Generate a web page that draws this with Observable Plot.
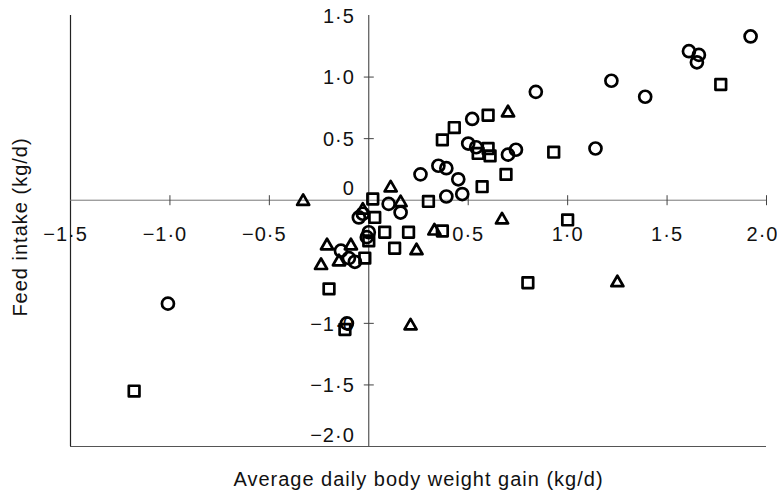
<!DOCTYPE html>
<html>
<head>
<meta charset="utf-8">
<script src="https://cdn.jsdelivr.net/npm/d3@7"></script>
<script src="https://cdn.jsdelivr.net/npm/@observablehq/plot@0.6"></script>
<style>
  html, body { margin: 0; padding: 0; background: #fff; }
  #chart svg { display: block; }
</style>
</head>
<body>
<div id="chart"></div>
<script>
// Series: circles
const circleGain   = [1.92, 1.61, 1.66, 1.65, 1.22, 1.39, 0.84, 1.14, 0.52, 0.50, 0.54, 0.70, 0.74, 0.26, 0.35, 0.39, 0.45, 0.39, 0.47, 0.10, 0.16, -1.01, -0.05, -0.03, 0.00, -0.01, -0.14, -0.10, -0.07, -0.11];
const circleIntake = [1.33, 1.21, 1.18, 1.12, 0.97, 0.84, 0.88, 0.42, 0.66, 0.46, 0.43, 0.37, 0.41, 0.21, 0.28, 0.26, 0.17, 0.03, 0.05, -0.03, -0.10, -0.84, -0.14, -0.11, -0.26, -0.30, -0.41, -0.47, -0.50, -1.00];
// Series: squares
const squareGain   = [1.77, 0.60, 0.43, 0.37, 0.60, 0.55, 0.61, 0.93, 0.69, 0.57, 0.30, 1.00, 0.80, -1.18, -0.20, -0.12, 0.08, 0.20, 0.37, 0.13, -0.02, 0.02, 0.03, 0.00];
const squareIntake = [0.94, 0.69, 0.59, 0.49, 0.42, 0.38, 0.36, 0.39, 0.21, 0.11, -0.01, -0.16, -0.67, -1.55, -0.72, -1.05, -0.26, -0.26, -0.25, -0.39, -0.47, 0.01, -0.14, -0.33];
// Series: triangles
const triangleGain   = [0.70, 0.11, -0.33, 0.67, 1.25, 0.21, 0.16, -0.21, -0.24, -0.15, -0.09, 0.33, 0.24, -0.03];
const triangleIntake = [0.71, 0.10, -0.01, -0.16, -0.67, -1.02, -0.02, -0.37, -0.53, -0.50, -0.37, -0.25, -0.41, -0.08];

// Tick values and labels
const xTicks = [-1.5, -1.0, -0.5, 0.5, 1.0, 1.5, 2.0];
const xTickLabels = ["\u22121\u00b75", "\u22121\u00b70", "\u22120\u00b75", "0\u00b75", "1\u00b70", "1\u00b75", "2\u00b70"];
const yTicks = [1.5, 1.0, 0.5, -1.0, -1.5, -2.0];
const yTickLabels = ["1\u00b75", "1\u00b70", "0\u00b75", "\u22121\u00b70", "\u22121\u00b75", "\u22122\u00b70"];

const xTitle = "Average daily body weight gain (kg/d)";
const yTitle = "Feed intake (kg/d)";

const toRows = (xs, ys) => xs.map((x, i) => ({x, y: ys[i]}));
const circles = toRows(circleGain, circleIntake);
const squares = toRows(squareGain, squareIntake);
const triangles = toRows(triangleGain, triangleIntake);

const vline = {draw(ctx, size) { const r = Math.sqrt(size / Math.PI); ctx.moveTo(0, -r); ctx.lineTo(0, r); }};
const hline = {draw(ctx, size) { const r = Math.sqrt(size / Math.PI); ctx.moveTo(-r, 0); ctx.lineTo(r, 0); }};

const xTickRows = xTicks.map((v, i) => ({v, label: xTickLabels[i]}));
const yTickRows = yTicks.map((v, i) => ({v, label: yTickLabels[i]}));
const xMax = d3.max(xTicks);

const fs = 20;
const markStyle = {stroke: "#000", strokeWidth: 2.7, fill: "none", strokeLinejoin: "round"};
const chart = Plot.plot({
  width: 777,
  height: 496,
  marginLeft: 70,
  marginRight: 11,
  marginTop: 15,
  marginBottom: 50,
  x: {domain: [-1.5, 2.0], axis: null},
  y: {domain: [-2.0, 1.5], axis: null},
  style: {fontFamily: "'Liberation Sans', Arial, sans-serif", background: "#fff", color: "#111", letterSpacing: "1px"},
  marks: [
    Plot.ruleX([-1.5], {stroke: "#222", strokeWidth: 1.2}),
    Plot.ruleY([-2.0], {stroke: "#555", strokeWidth: 1.2}),
    Plot.ruleX([0], {stroke: "#333", strokeWidth: 1}),
    Plot.ruleY([0], {stroke: "#777", strokeWidth: 1}),
    Plot.dot(xTicks.filter(v => v !== -1.5), {x: d => d, y: () => 0, symbol: vline, r: 5, stroke: "#444", strokeWidth: 1}),
    Plot.dot(yTicks.filter(v => v !== 1.5 && v !== -2.0), {x: () => 0, y: d => d, symbol: hline, r: 5, stroke: "#444", strokeWidth: 1}),
    Plot.text(xTickRows.filter(d => d.v < 0), {x: "v", y: () => 0, text: "label", dy: 34, dx: -5, fontSize: fs, fill: "#111"}),
    Plot.text(xTickRows.filter(d => d.v > 0 && d.v < xMax), {x: "v", y: () => 0, text: "label", dy: 34, fontSize: fs, fill: "#111"}),
    Plot.text(xTickRows.filter(d => d.v === xMax), {x: "v", y: () => 0, text: "label", dy: 34, dx: -4, fontSize: fs, fill: "#111"}),
    Plot.text(yTickRows.filter(d => d.v !== -2.0), {x: () => 0, y: "v", text: "label", dx: -14, dy: 1, textAnchor: "end", fontSize: fs, fill: "#111"}),
    Plot.text(yTickRows.filter(d => d.v === -2.0), {x: () => 0, y: "v", text: "label", dx: -14, dy: -5, lineAnchor: "bottom", textAnchor: "end", fontSize: fs, fill: "#111"}),
    Plot.text(["0"], {x: () => 0, y: () => 0, text: d => d, dx: -20, dy: -12, fontSize: fs, fill: "#111"}),
    Plot.text([xTitle], {frameAnchor: "bottom", text: d => d, dy: 39, fontSize: fs, fill: "#111"}),
    Plot.text([yTitle], {frameAnchor: "left", text: d => d, dx: -50, dy: -4, rotate: -90, textAnchor: "middle", fontSize: fs, fill: "#111"}),
    Plot.dot(circles, {x: "x", y: "y", symbol: "circle", r: 6, ...markStyle}),
    Plot.dot(squares, {x: "x", y: "y", symbol: "square", r: 6, ...markStyle}),
    Plot.dot(triangles, {x: "x", y: "y", symbol: "triangle", r: 4.5, ...markStyle})
  ]
});
document.getElementById("chart").appendChild(chart);
</script>
</body>
</html>
